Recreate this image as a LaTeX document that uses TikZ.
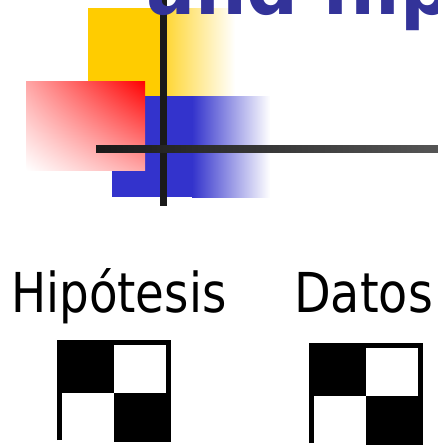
\documentclass[tikz,border=0pt]{standalone}
\usepackage{fontspec}
\newfontfamily\rotulofont{DejaVu Sans}
\usepackage{tikz}
\usetikzlibrary{positioning, shadings}
\definecolor{amarillo}{HTML}{FFCC00}
\definecolor{azul}{HTML}{3333CC}
\definecolor{tituloazul}{HTML}{333399}
\definecolor{barra}{HTML}{1A1A1A}
\definecolor{barrafin}{HTML}{555555}
\tikzstyle{rotulo} = [inner sep=0pt, anchor=base west, font=\rotulofont\fontsize{55}{60}\selectfont]
\tikzstyle{titulo} = [inner sep=0pt, anchor=base west, text=tituloazul, font=\rotulofont\bfseries\fontsize{78}{80}\selectfont]
\tikzstyle{borde} = [line width=5pt, line join=miter]

\begin{document}
\begin{tikzpicture}[x=1pt, y=-1pt]
  \useasboundingbox (0,0) rectangle (438,445);
  \clip (0,0) rectangle (438,445);

  % yellow and blue blocks, fading out to the right
  \fill[amarillo] (88,8) rectangle (166,97);
  \shade[left color=amarillo!80, right color=white] (165,8) rectangle (235,97);
  \fill[azul] (112,96) rectangle (193,197);
  \shade[left color=azul, right color=white] (192,96) rectangle (270,197);
  % red block
  \shade[upper right=red, lower left=white, upper left=red!35, lower right=red!35] (26,81) rectangle (145,170);

  % cross
  \fill[barra] (160,0) rectangle (167,206);
  \shade[left color=barra, right color=barrafin] (96,145.5) rectangle (438,152);

  \node (title) [titulo] at (146,14) {\scalebox{0.93}[1]{and hip}};

  \node (hipotesis) [rotulo] at (11,312) {\scalebox{0.85}[1]{Hipótesis}};
  \node (datos) [rotulo] at (294,312) {\scalebox{0.867}[1]{Datos}};

  % checker icons
  \foreach \cx/\cy in {57/340, 309/343} {
    \fill (\cx,\cy) rectangle ++(57,53);
    \fill (\cx+57,\cy+53) rectangle (\cx+114,\cy+102);
    \draw[borde] (\cx+2.5,\cy+100) -- (\cx+2.5,\cy+2.5) -- (\cx+111.5,\cy+2.5) -- (\cx+111.5,\cy+53);
  }
\end{tikzpicture}
\end{document}
